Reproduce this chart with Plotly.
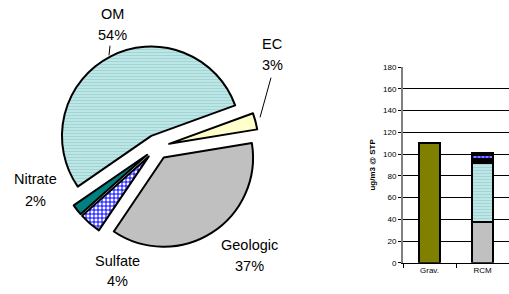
import plotly.graph_objects as go

# ---- data ----
species = ["EC", "Geologic", "Sulfate", "Nitrate", "OM"]
rcm_values = [3.0, 37.4, 4.0, 2.0, 54.6]
grav_value = 110.0
bar_categories = ["Grav.", "RCM"]
stack_order = ["Geologic", "OM", "EC", "Sulfate", "Nitrate"]
y_ticks = [0, 20, 40, 60, 80, 100, 120, 140, 160, 180]

# ---- styles ----
colors = {"EC": "#ffffcc", "Geologic": "#c0c0c0", "Sulfate": "#ffffff",
          "Nitrate": "#008080", "OM": "#c0eaea"}
pat_shape = {"EC": "", "Geologic": "", "Sulfate": "+", "Nitrate": "", "OM": "-"}
pat_fg = {"EC": "#000000", "Geologic": "#000000", "Sulfate": "#0000ff",
          "Nitrate": "#000000", "OM": "#a2d4d4"}
pat_size = {"EC": 4, "Geologic": 4, "Sulfate": 4, "Nitrate": 4, "OM": 3}
pat_sol = {"EC": 0.3, "Geologic": 0.3, "Sulfate": 0.45, "Nitrate": 0.3, "OM": 0.4}

W, H = 509, 294
FONT = "Liberation Sans, Arial, sans-serif"

fig = go.Figure()

fig.add_trace(go.Pie(
    labels=species, values=rcm_values, sort=False, direction="clockwise",
    rotation=70, pull=[0.14] * len(species), textinfo="none", hoverinfo="label+percent",
    marker=dict(colors=[colors[s] for s in species],
                line=dict(color="black", width=2),
                pattern=dict(shape=[pat_shape[s] for s in species],
                             fgcolor=[pat_fg[s] for s in species],
                             bgcolor=[colors[s] for s in species],
                             fillmode="replace",
                             size=[pat_size[s] for s in species],
                             solidity=[pat_sol[s] for s in species])),
    domain=dict(x=[52 / W, 262 / W], y=[41.5 / H, 251.5 / H]),
    showlegend=False,
))

# Grav bar
fig.add_trace(go.Bar(
    x=[bar_categories[0]], y=[grav_value], xaxis="x", yaxis="y",
    marker=dict(color="#808000", line=dict(color="black", width=2.5)),
    width=0.4, showlegend=False,
))
# RCM stacked
for s in stack_order:
    v = rcm_values[species.index(s)]
    fig.add_trace(go.Bar(
        x=[bar_categories[1]], y=[v], xaxis="x", yaxis="y",
        marker=dict(color=colors[s], line=dict(color="black", width=2.5),
                    pattern=dict(shape=pat_shape[s], fgcolor=pat_fg[s],
                                 bgcolor=colors[s], fillmode="replace",
                                 size=pat_size[s], solidity=pat_sol[s])),
        width=0.4, showlegend=False, name=s,
    ))

# pie labels
total = sum(rcm_values)
label_pos = {
    "OM": (112, 10, 32),
    "EC": (272, 41, 63),
    "Nitrate": (35, 181, 203),
    "Sulfate": (117, 265, 286),
    "Geologic": (249, 249, 270),
}
annotations = []
for s in species:
    px, y1, y2 = label_pos[s]
    pct = round(100 * rcm_values[species.index(s)] / total)
    annotations.append(dict(x=px / W, y=1 - y1 / H, xref="paper", yref="paper",
                            text=s, showarrow=False, xanchor="center", yanchor="middle",
                            font=dict(family=FONT, size=14.5, color="black")))
    annotations.append(dict(x=px / W, y=1 - y2 / H, xref="paper", yref="paper",
                            text=f"{pct}%", showarrow=False, xanchor="center", yanchor="middle",
                            font=dict(family=FONT, size=14.5, color="black")))

shapes = [
    dict(type="line", xref="paper", yref="paper", x0=110 / W, y0=1 - 43 / H,
         x1=109 / W, y1=1 - 53 / H, line=dict(color="black", width=1)),
    dict(type="line", xref="paper", yref="paper", x0=271 / W, y0=1 - 76 / H,
         x1=260 / W, y1=1 - 117 / H, line=dict(color="black", width=1)),
]

fig.update_layout(
    width=W, height=H, margin=dict(l=0, r=0, t=0, b=0),
    paper_bgcolor="white", plot_bgcolor="white",
    barmode="stack", bargap=0.6,
    font=dict(family=FONT, color="black"),
    annotations=annotations, shapes=shapes,
    xaxis=dict(domain=[403 / W, 1.0], anchor="y", type="category",
               categoryorder="array", categoryarray=bar_categories,
               showline=True, linecolor="black", linewidth=1,
               ticks="outside", tickson="boundaries", ticklen=4, tickcolor="black",
               tickfont=dict(size=8, family=FONT), showgrid=False),
    yaxis=dict(domain=[27 / H, 229 / H], anchor="x", range=[0, 180],
               tickvals=y_ticks, ticks="outside", ticklen=3, tickcolor="black",
               tickfont=dict(size=8, family=FONT),
               showline=True, linecolor="#808080", linewidth=2,
               showgrid=True, gridcolor="black", gridwidth=1, zeroline=False,
               title=dict(text="<b>ug/m3 @ STP</b>", font=dict(size=8, family=FONT), standoff=6)),
)

fig.write_html("out.html", config={"displayModeBar": False},
               post_script="document.body.style.margin='0';document.body.style.padding='0';")
